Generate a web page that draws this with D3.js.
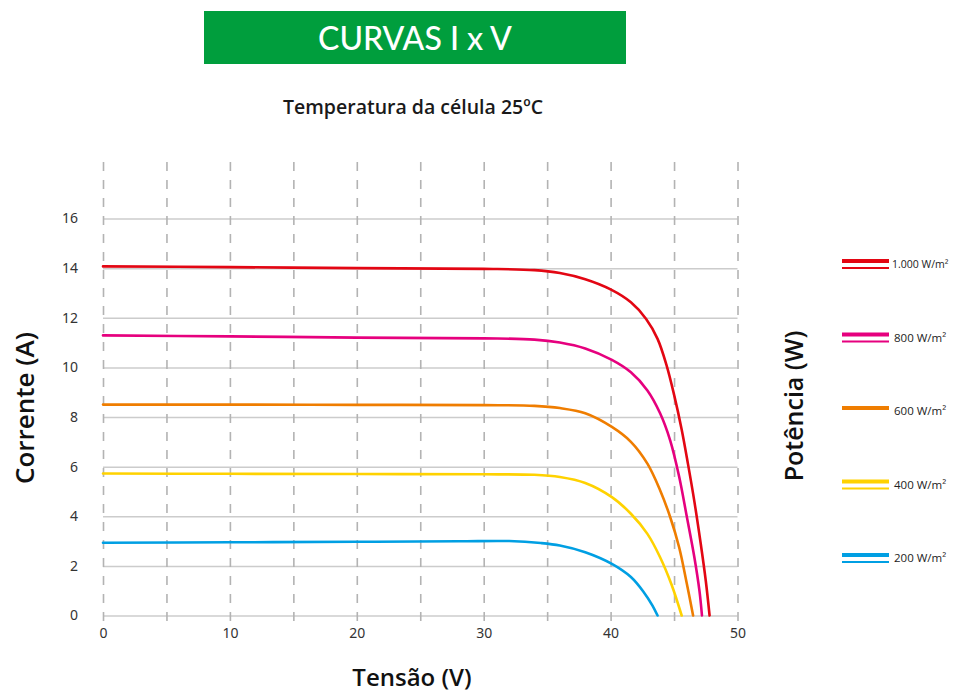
<!DOCTYPE html>
<html><head><meta charset="utf-8">
<script src="https://cdn.jsdelivr.net/npm/d3@7"></script>
<style>body{margin:0;background:#fff}svg{display:block}</style>
</head><body>
<svg id="c" width="963" height="695"></svg>
<script>
const xTicks=[0,10,20,30,40,50];
const xGrid=[0,5,10,15,20,25,30,35,40,45,50];
const yTicks=[0,2,4,6,8,10,12,14,16];
const seriesNames=["1.000 W/m²","800 W/m²","600 W/m²","400 W/m²","200 W/m²"];
const seriesColors=["#e30613","#e6007e","#ef7d00","#ffd200","#009fe3"];
const doubleLine=[true,true,false,true,true];
const s1000=[[0,14.07],[10,14.04],[20,14.0],[30,13.97],[34,13.92],[36,13.8],[38,13.55],[40,13.14],[41.6,12.62],[42.8,11.95],[43.7,11.15],[44.4,10.1],[45.0,8.9],[45.6,7.5],[46.1,6.1],[46.6,4.6],[47.1,2.9],[47.5,1.4],[47.8,0]];
const s800=[[0,11.29],[10,11.25],[20,11.2],[30,11.17],[34,11.12],[36,11.0],[38,10.76],[40.1,10.3],[41.6,9.8],[42.9,9.07],[43.9,8.15],[44.7,7.05],[45.4,5.6],[46.0,4.0],[46.6,2.35],[47.0,1.0],[47.2,0]];
const s600=[[0,8.5],[10,8.5],[20,8.49],[30,8.48],[34,8.45],[36,8.36],[38,8.15],[40.1,7.6],[41.6,7.0],[42.9,6.12],[43.9,5.05],[44.7,3.96],[45.4,2.75],[46.0,1.3],[46.5,0]];
const s400=[[0,5.72],[10,5.71],[20,5.7],[30,5.69],[34,5.67],[36,5.58],[38,5.34],[40.1,4.77],[41.6,4.1],[42.9,3.29],[43.9,2.35],[44.8,1.25],[45.6,0]];
const s200=[[0,2.93],[10,2.95],[20,2.97],[28,2.99],[32,3.0],[34.5,2.92],[36,2.82],[38,2.55],[40.1,2.08],[41.6,1.55],[42.6,0.95],[43.3,0.4],[43.7,0]];
const seriesData=[s1000,s800,s600,s400,s200];

const svg=d3.select("#c");
const x=d3.scaleLinear().domain([0,50]).range([103,737.5]);
const y=d3.scaleLinear().domain([0,16]).range([615.5,218.5]);

// banner
svg.append("rect").attr("x",204).attr("y",11).attr("width",422).attr("height",53).attr("fill","#009e3d");
svg.append("text").attr("x",415).attr("y",50).attr("text-anchor","middle").attr("fill","#fff")
  .attr("font-family","Lato, 'Open Sans', sans-serif").attr("font-size",32).attr("font-weight",500).text("CURVAS I x V");
svg.append("text").attr("x",413).attr("y",114).attr("text-anchor","middle").attr("fill","#1a1a1a")
  .attr("font-family","'Open Sans', sans-serif").attr("font-size",19.5).attr("font-weight",600).text("Temperatura da célula 25ºC");

// horizontal grid
const gy=svg.append("g").attr("transform",`translate(${x(0)},0)`)
  .call(d3.axisRight(y).tickValues(yTicks).tickSize(x(50)-x(0)).tickFormat(""));
gy.select(".domain").remove();
gy.selectAll("line").attr("stroke","#cccccc").attr("stroke-width",1.5);

// vertical dashed grid
const gx=svg.append("g").attr("transform",`translate(0,621)`)
  .call(d3.axisTop(x).tickValues(xGrid).tickSize(621-160).tickFormat(""));
gx.select(".domain").remove();
gx.selectAll("line").attr("stroke","#b3b3b3").attr("stroke-width",1.6).attr("stroke-dasharray","9,9");

// y tick labels
const ya=svg.append("g").attr("transform",`translate(80,0)`)
  .call(d3.axisLeft(y).tickValues(yTicks).tickSize(0).tickPadding(2));
ya.select(".domain").remove();
ya.selectAll("text").attr("font-family","'Noto Sans', 'Open Sans', sans-serif").attr("font-size",14).attr("fill","#333");

// x tick labels
const xa=svg.append("g").attr("transform",`translate(0,626)`)
  .call(d3.axisBottom(x).tickValues(xTicks).tickSize(0).tickPadding(2));
xa.select(".domain").remove();
xa.selectAll("text").attr("font-family","'Noto Sans', 'Open Sans', sans-serif").attr("font-size",14).attr("fill","#333");

// axis titles
svg.append("text").attr("transform","translate(34,408) rotate(-90)").attr("text-anchor","middle")
  .attr("font-family","'Open Sans', sans-serif").attr("font-size",26).attr("font-weight",600).attr("fill","#111").text("Corrente (A)");
svg.append("text").attr("x",412).attr("y",686).attr("text-anchor","middle")
  .attr("font-family","'Open Sans', sans-serif").attr("font-size",24).attr("font-weight",600).attr("fill","#111").text("Tensão (V)");
svg.append("text").attr("transform","translate(803,406) rotate(-90)").attr("text-anchor","middle")
  .attr("font-family","'Open Sans', sans-serif").attr("font-size",25).attr("font-weight",600).attr("fill","#111").text("Potência (W)");

// curves
const line=d3.line().x(d=>x(d[0])).y(d=>y(d[1])).curve(d3.curveCatmullRom.alpha(0.5));
svg.append("g").selectAll("path").data(seriesData).join("path")
  .attr("d",line).attr("fill","none").attr("stroke",(d,i)=>seriesColors[i])
  .attr("stroke-width",2.6).attr("stroke-linecap","round");

// legend
const legY=d3.scalePoint().domain(seriesNames).range([261,555]);
const lg=svg.append("g").selectAll("g").data(seriesNames).join("g")
  .attr("transform",d=>`translate(842,${legY(d)})`);
lg.append("line").attr("x1",0).attr("x2",47).attr("y1",0).attr("y2",0)
  .attr("stroke",(d,i)=>seriesColors[i]).attr("stroke-width",4);
lg.filter((d,i)=>doubleLine[i]).append("line").attr("x1",0).attr("x2",47).attr("y1",7).attr("y2",7)
  .attr("stroke",d=>seriesColors[seriesNames.indexOf(d)]).attr("stroke-width",2);
lg.append("text").attr("x",(d,i)=>i===0?50:52).attr("y",4).attr("dominant-baseline","middle")
  .attr("font-family","'Open Sans', sans-serif").attr("font-size",(d,i)=>i===0?10.5:11.5).attr("fill","#222").text(d=>d);
</script>
</body></html>
